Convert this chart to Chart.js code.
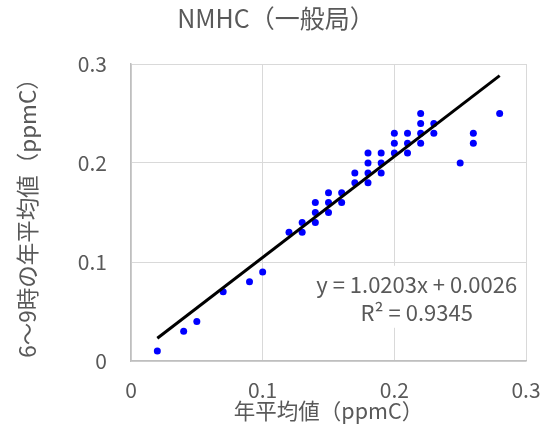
<!DOCTYPE html>
<html>
<head>
<meta charset="utf-8">
<script src="https://cdn.jsdelivr.net/npm/chart.js@4"></script>
<style>
  html, body { margin: 0; padding: 0; background: #fff; }
  #wrap { width: 547px; height: 436px; }
</style>
</head>
<body>
<div id="wrap"><canvas id="c" width="547" height="436"></canvas></div>
<script>
// annual mean (x) vs 6-9h annual mean (y), ppmC
const xValues = [0.02, 0.04, 0.05, 0.07, 0.09, 0.10, 0.12, 0.13, 0.13,
  0.14, 0.14, 0.14, 0.15, 0.15, 0.15, 0.16, 0.16, 0.17, 0.17,
  0.18, 0.18, 0.18, 0.18, 0.19, 0.19, 0.19, 0.20, 0.20, 0.20,
  0.21, 0.21, 0.21, 0.22, 0.22, 0.22, 0.22, 0.23, 0.23,
  0.25, 0.26, 0.26, 0.28];
const yValues = [0.01, 0.03, 0.04, 0.07, 0.08, 0.09, 0.13, 0.13, 0.14,
  0.14, 0.15, 0.16, 0.15, 0.16, 0.17, 0.16, 0.17, 0.18, 0.19,
  0.18, 0.19, 0.20, 0.21, 0.19, 0.20, 0.21, 0.21, 0.22, 0.23,
  0.21, 0.22, 0.23, 0.22, 0.23, 0.24, 0.25, 0.23, 0.24,
  0.20, 0.22, 0.23, 0.25];
const axisTicks = [0, 0.1, 0.2, 0.3];

// trendline shown on the chart
const slope = 1.0203;
const intercept = 0.0026;
const eqLines = ['y = 1.0203x + 0.0026', 'R² = 0.9345'];

const chartTitle = 'NMHC（一般局）';
const xTitle = '年平均値（ppmC）';
const yTitle = '6～9時の年平均値（ppmC）';

const FONT = '"Noto Sans CJK JP", "Noto Sans", sans-serif';
const textGray = '#595959';

const points = xValues.map((x, i) => ({ x: x, y: yValues[i] }));
const xMin = Math.min(...xValues), xMax = Math.max(...xValues);
const trend = [
  { x: xMin, y: slope * xMin + intercept },
  { x: xMax, y: slope * xMax + intercept }
];

// title + equation label (white box behind it)
const labels = {
  id: 'labels',
  afterDatasetsDraw(chart) {
    const { ctx, scales } = chart;
    ctx.save();
    ctx.fillStyle = textGray;
    ctx.textAlign = 'center';
    ctx.textBaseline = 'middle';
    ctx.font = '25px ' + FONT;
    ctx.fillText(chartTitle, 276, 18);

    const cx = scales.x.getPixelForValue(0.217);
    const y0 = scales.y.getPixelForValue(0.077);
    ctx.fillStyle = '#fff';
    ctx.fillRect(cx - 104, y0 - 19, 208, 62);
    ctx.fillStyle = textGray;
    ctx.font = '22px ' + FONT;
    ctx.fillText(eqLines[0], cx, y0);
    ctx.fillText(eqLines[1], cx, y0 + 28);
    ctx.restore();
  }
};

const fmt = v => String(Math.round(v * 10) / 10);

new Chart(document.getElementById('c'), {
  type: 'scatter',
  data: {
    datasets: [
      {
        label: 'NMHC',
        data: points,
        backgroundColor: '#0000ff',
        borderColor: '#0000ff',
        pointRadius: 3.5,
        pointBorderWidth: 0,
        order: 2
      },
      {
        label: 'trend',
        type: 'line',
        data: trend,
        borderColor: '#000',
        borderWidth: 3,
        pointRadius: 0,
        fill: false,
        order: 1
      }
    ]
  },
  options: {
    responsive: false,
    animation: false,
    events: [],
    layout: { padding: { left: 0, right: 21, top: 64, bottom: 0 } },
    plugins: {
      legend: { display: false },
      tooltip: { enabled: false },
      title: { display: false }
    },
    scales: {
      x: {
        type: 'linear',
        min: 0, max: 0.3,
        afterBuildTicks: s => { s.ticks = axisTicks.map(v => ({ value: v })); },
        afterFit: s => { s.height = 75; s.paddingLeft = 0; s.paddingRight = 0; },
        grid: { color: '#d9d9d9', lineWidth: 1, drawTicks: false },
        border: { color: '#bfbfbf', width: 1.5 },
        ticks: {
          color: textGray, padding: 16,
          font: { family: FONT, size: 21 },
          callback: fmt
        },
        title: {
          display: true, text: xTitle, color: textGray,
          font: { family: FONT, size: 21.5 },
          padding: { top: 0, bottom: 12 }
        }
      },
      y: {
        type: 'linear',
        min: 0, max: 0.3,
        afterBuildTicks: s => { s.ticks = axisTicks.map(v => ({ value: v })); },
        afterFit: s => { s.width = 131; s.paddingTop = 0; s.paddingBottom = 0; },
        grid: { color: '#d9d9d9', lineWidth: 1, drawTicks: false },
        border: { color: '#bfbfbf', width: 1.5 },
        ticks: {
          color: textGray, padding: 24,
          font: { family: FONT, size: 21 },
          callback: fmt
        },
        title: {
          display: true, text: yTitle, color: textGray,
          font: { family: FONT, size: 22.5 },
          padding: { top: 14, bottom: 0 }
        }
      }
    }
  },
  plugins: [labels]
});
</script>
</body>
</html>
